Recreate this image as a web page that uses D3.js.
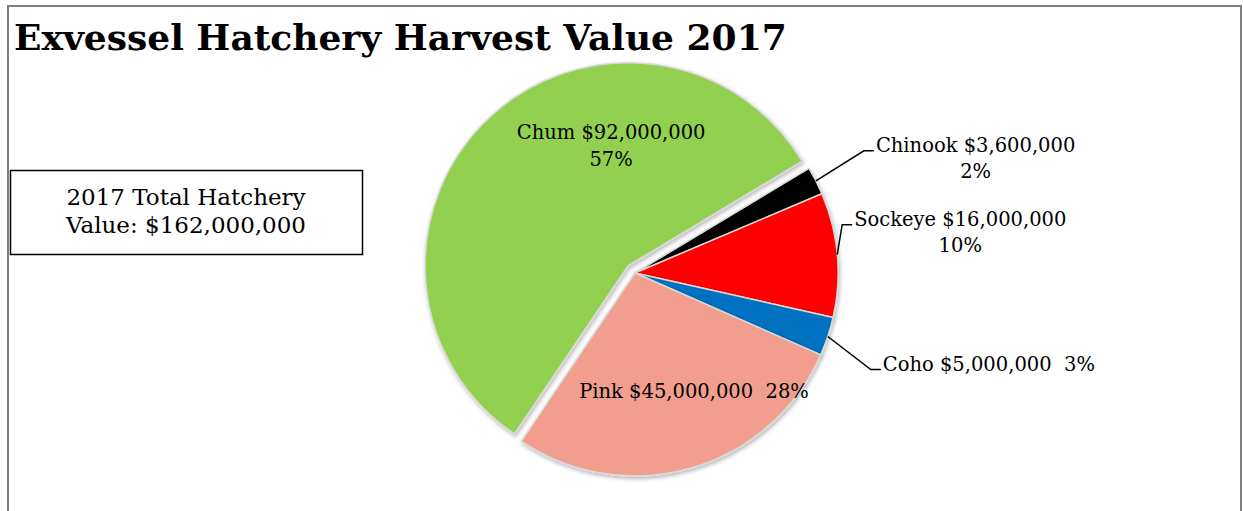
<!DOCTYPE html>
<html>
<head>
<meta charset="utf-8">
<script src="https://cdn.jsdelivr.net/npm/d3@7"></script>
<style>
  body { margin: 0; background: #fff; }
  svg { display: block; }
  text { font-family: "DejaVu Serif", serif; fill: #000; white-space: pre; }
</style>
</head>
<body>
<script>
// harvest value by species, 2017
var species = ["Chinook", "Sockeye", "Coho", "Pink", "Chum"];
var values = [3600000, 16000000, 5000000, 45000000, 92000000];
var colors = ["#000000", "#ff0000", "#0070c0", "#f19e8f", "#92d050"];
var totalValue = 162000000;
var titleText = "Exvessel Hatchery Harvest Value 2017";

var width = 1244, height = 511;
var cx = 635, cy = 273, radius = 203;
var rotation = 59; // degrees, first slice start
var explode = { "Chum": 10 };
var labelSize = "19.5px";

// where labels sit, relative to pie centre or slice edge
var labelStyle = {
  "Chum":    { inside: true, x: -17, y: -127, lines: 2 },
  "Pink":    { inside: true, x: 59, y: 125, lines: 1 },
  "Chinook": { inside: false, elbow: [48, -30], run: 10, lines: 2 },
  "Sockeye": { inside: false, elbow: [5, -30], run: 10, lines: 2 },
  "Coho":    { inside: false, elbow: [43, 33], run: 10, lines: 1 }
};

var money = d3.format("$,"),
    pct = d3.format(".0%");

var data = species.map(function(s, i) { return { name: s, value: values[i], color: colors[i] }; });
var sum = d3.sum(values);

var svg = d3.select("body").append("svg")
    .attr("width", width)
    .attr("height", height);

var defs = svg.append("defs");
var shadow = defs.append("filter").attr("id", "shadow")
    .attr("x", "-20%").attr("y", "-20%").attr("width", "140%").attr("height", "140%");
shadow.append("feDropShadow")
    .attr("dx", 1).attr("dy", 2).attr("stdDeviation", 2)
    .attr("flood-color", "#000").attr("flood-opacity", 0.3);

// frame
svg.append("rect")
    .attr("x", 8).attr("y", 6)
    .attr("width", 1233).attr("height", 520)
    .attr("fill", "#fff")
    .attr("stroke", "#7f7f7f")
    .attr("stroke-width", 2);

svg.append("text")
    .attr("x", 14).attr("y", 50)
    .style("font-size", "36px")
    .style("font-weight", "bold")
    .text(titleText);

// total box
svg.append("rect")
    .attr("x", 10.5).attr("y", 170.5)
    .attr("width", 352).attr("height", 84)
    .attr("fill", "#fff")
    .attr("stroke", "#000")
    .attr("stroke-width", 1.5);

svg.append("text")
    .attr("x", 186).attr("y", 205)
    .attr("text-anchor", "middle")
    .style("font-size", "23px")
    .selectAll("tspan")
    .data(["2017 Total Hatchery", "Value: " + money(totalValue)])
    .enter().append("tspan")
    .attr("x", 186)
    .attr("dy", function(d, i) { return i ? 28 : 0; })
    .text(function(d) { return d; });

var rad = Math.PI / 180;
var pie = d3.pie()
    .sort(null)
    .value(function(d) { return d.value; })
    .startAngle(rotation * rad)
    .endAngle(rotation * rad + 2 * Math.PI);

var arc = d3.arc().innerRadius(0).outerRadius(radius);
var arcs = pie(data);

function offset(d) {
  var e = explode[d.data.name] || 0,
      a = (d.startAngle + d.endAngle) / 2;
  return [Math.sin(a) * e, -Math.cos(a) * e];
}

var g = svg.append("g").attr("transform", "translate(" + cx + "," + cy + ")");

g.selectAll("path.slice")
    .data(arcs)
    .enter().append("path")
    .attr("class", "slice")
    .attr("transform", function(d) { var o = offset(d); return "translate(" + o[0] + "," + o[1] + ")"; })
    .attr("d", arc)
    .attr("fill", function(d) { return d.data.color; })
    .attr("stroke", "#d9d9d9")
    .attr("stroke-width", 1.5)
    .attr("stroke-linejoin", "round")
    .style("filter", "url(#shadow)");

function labelLines(d) {
  var name = d.data.name + " " + money(d.value),
      p = pct(d.value / sum),
      st = labelStyle[d.data.name];
  return st.lines === 2 ? [name, p] : [name + "  " + p];
}

arcs.forEach(function(d) {
  var st = labelStyle[d.data.name];
  var lines = labelLines(d);
  if (st.inside) {
    var o = offset(d);
    g.append("text")
        .attr("text-anchor", "middle")
        .style("font-size", labelSize)
        .selectAll("tspan")
        .data(lines)
        .enter().append("tspan")
        .attr("x", st.x + o[0])
        .attr("y", function(t, i) { return st.y + o[1] + i * 27; })
        .text(function(t) { return t; });
    return;
  }
  var a = (d.startAngle + d.endAngle) / 2;
  var p0 = [Math.sin(a) * radius, -Math.cos(a) * radius];
  var p1 = [p0[0] + st.elbow[0], p0[1] + st.elbow[1]];
  var p2 = [p1[0] + st.run, p1[1]];
  g.append("path")
      .attr("d", d3.line()([p0, p1, p2]))
      .attr("fill", "none")
      .attr("stroke", "#000")
      .attr("stroke-width", 1.5);

  var t = g.append("text")
      .style("font-size", labelSize)
      .attr("x", p2[0] + 2)
      .attr("y", p2[1] + 1.5)
      .text(lines[0]);
  if (lines.length > 1) {
    var w = t.node().getComputedTextLength();
    g.append("text")
        .style("font-size", labelSize)
        .attr("text-anchor", "middle")
        .attr("x", p2[0] + 2 + w / 2)
        .attr("y", p2[1] + 27)
        .text(lines[1]);
  }
});
</script>
</body>
</html>
